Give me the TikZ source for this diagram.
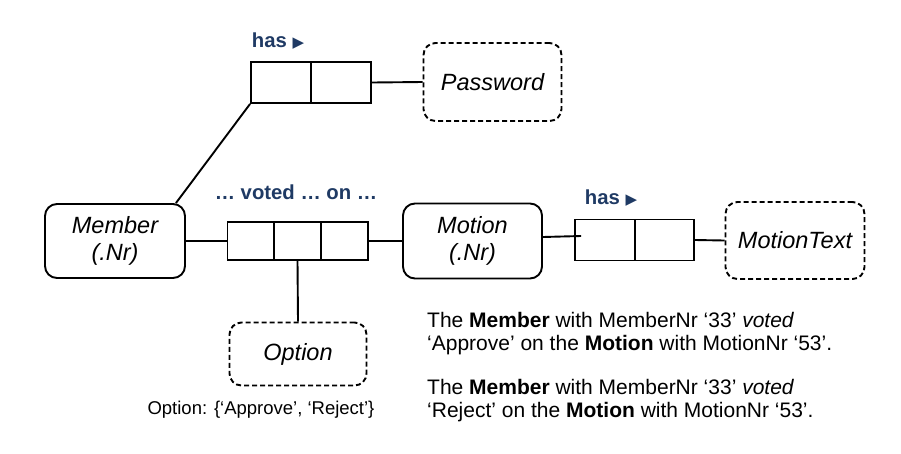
\documentclass[tikz,border=0pt]{standalone}
\usepackage{fontspec}
\setmainfont{Liberation Sans}
\newfontfamily\symfnt{DejaVu Sans}
\usetikzlibrary{calc}
\definecolor{lblue}{HTML}{1F3A64}
\tikzset{
  ent/.style={draw, line width=1.9pt, rounded corners=12pt, font=\fontsize{23.5}{27}\selectfont\itshape, align=center, inner sep=0pt},
  val/.style={draw, line width=1.9pt, dash pattern=on 5pt off 3pt, rounded corners=12pt, font=\fontsize{23.5}{27}\selectfont\itshape, align=center, inner sep=0pt},
  cell/.style={draw, line width=1.9pt, inner sep=0pt},
  conn/.style={line width=1.9pt},
  rlab/.style={text=lblue, font=\fontsize{20.3}{22}\selectfont\bfseries, inner sep=0pt},
  sent/.style={font=\fontsize{21}{23}\selectfont, align=left, anchor=north west, inner sep=0pt},
}
\begin{document}
\begin{tikzpicture}[x=1pt,y=-1pt]
\useasboundingbox (0,0) rectangle (901,453);
% entities
\node[ent, minimum width=140pt, minimum height=74pt] (member) at (115,241) {Member\\(.Nr)};
\node[ent, minimum width=139pt, minimum height=75pt] (motion) at (472.5,241) {Motion\\(.Nr)};
\node[val, minimum width=138pt, minimum height=78pt] (password) at (492.5,82) {Password};
\node[val, minimum width=139pt, minimum height=77pt] (motiontext) at (795,240.5) {MotionText};
\node[val, minimum width=137pt, minimum height=63pt] (option) at (298,354) {Option};
% fact boxes
\node[cell, minimum width=60pt, minimum height=41pt] (h1) at (281,82.5) {};
\node[cell, minimum width=60pt, minimum height=41pt] (h2) at (341,82.5) {};
\node[cell, minimum width=47pt, minimum height=38pt] (v1) at (251,241) {};
\node[cell, minimum width=47pt, minimum height=38pt] (v2) at (297.5,241) {};
\node[cell, minimum width=47pt, minimum height=38pt] (v3) at (344.5,241) {};
\node[cell, minimum width=60pt, minimum height=41pt] (m1) at (605,240) {};
\node[cell, minimum width=59pt, minimum height=41pt] (m2) at (664.5,240) {};
% labels
\node[rlab] (lhas1) at (278,41) {has {\symfnt\fontsize{15}{16}\selectfont ▶}};
\node[rlab] (lhas2) at (611,198) {has {\symfnt\fontsize{15}{16}\selectfont ▶}};
\node[rlab] (lvoted) at (296,192) {… voted … on …};
% connectors
\draw[conn] ([xshift=-10pt]member.north east) -- (h1.south west);
\draw[conn] (h2.east) -- (password.west);
\draw[conn] (member.east) -- (v1.west);
\draw[conn] (v3.east) -- (motion.west);
\draw[conn] (v2.south) -- (option.north);
\draw[conn] ([yshift=4pt]motion.east) -- ([xshift=7pt,yshift=4pt]m1.west);
\draw[conn] (m2.east) -- (motiontext.west);
% texts
\node[font=\fontsize{18.5}{20}\selectfont, inner sep=0pt] (optcap) at (261,410) {Option: \{‘Approve’, ‘Reject’\}};
\node[sent] (s1) at (427,312) {The \textbf{Member} with MemberNr ‘33’ \textit{voted}\\‘Approve’ on the \textbf{Motion} with MotionNr ‘53’.};
\node[sent] (s2) at (427,379) {The \textbf{Member} with MemberNr ‘33’ \textit{voted}\\‘Reject’ on the \textbf{Motion} with MotionNr ‘53’.};
\end{tikzpicture}
\end{document}
